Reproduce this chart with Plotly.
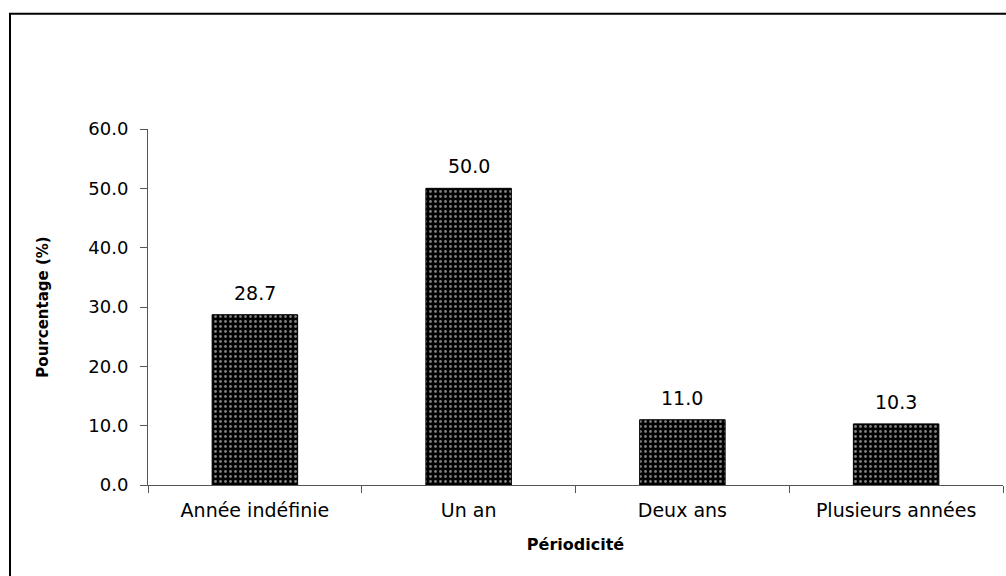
import plotly.graph_objects as go

categories = ["Année indéfinie", "Un an", "Deux ans", "Plusieurs années"]
values = [28.7, 50.0, 11.0, 10.3]
y_ticks = [0, 10, 20, 30, 40, 50, 60]
y_tick_labels = ["0.0", "10.0", "20.0", "30.0", "40.0", "50.0", "60.0"]

FONT = "DejaVu Sans, Arial, sans-serif"

fig = go.Figure(go.Bar(
    x=categories, y=values,
    width=0.4,
    marker=dict(
        color="black",
        line=dict(color="black", width=1),
        pattern=dict(shape=".", bgcolor="black", fgcolor="white", size=5, solidity=0.25, fillmode="overlay"),
    ),
    hoverinfo="x+y",
))

# value labels above bars
for c, v in zip(categories, values):
    fig.add_annotation(
        x=c, y=v, text=f"{v:.1f}", showarrow=False,
        yanchor="bottom", yshift=9,
        font=dict(family=FONT, size=19, color="black"),
    )

L, R, T, B = 148, 1003, 128.5, 485
W, H = 1006, 576
fig.update_layout(
    width=W, height=H,
    margin=dict(l=L, r=W - R, t=T, b=H - B, pad=0),
    paper_bgcolor="white", plot_bgcolor="white",
    showlegend=False,
    font=dict(family=FONT, color="black"),
    xaxis=dict(
        showline=True, linecolor="#555555", linewidth=1,
        ticks="outside", ticklen=7, tickcolor="#555555",
        tickson="boundaries",
        ticklabelstandoff=8,
        tickfont=dict(family=FONT, size=19, color="black"),
        title=dict(text="<b>Périodicité</b>", font=dict(family=FONT, size=16, color="black"), standoff=19),
        showgrid=False,
    ),
    yaxis=dict(
        range=[0, 60],
        tickvals=y_ticks, ticktext=y_tick_labels,
        showline=True, linecolor="#555555", linewidth=1,
        ticks="outside", ticklen=7, tickcolor="#555555",
        ticklabelstandoff=8,
        tickfont=dict(family=FONT, size=18, color="black"),
        title=dict(text="<b>Pourcentage (%)</b>", font=dict(family=FONT, size=15, color="black"), standoff=36),
        showgrid=False, zeroline=False,
    ),
)

# outer chart border: only the left and top edges fall inside the frame
fig.add_shape(
    type="line", xref="paper", yref="paper",
    x0=(10 - L) / (R - L), x1=(10 - L) / (R - L),
    y0=(B - 600) / (B - T), y1=(B - 13) / (B - T),
    line=dict(color="black", width=2), layer="below",
)
fig.add_shape(
    type="line", xref="paper", yref="paper",
    x0=(9 - L) / (R - L), x1=(1040 - L) / (R - L),
    y0=(B - 13) / (B - T), y1=(B - 13) / (B - T),
    line=dict(color="black", width=2), layer="below",
)

fig.write_html(
    "out.html",
    config={"displayModeBar": False},
    post_script="document.body.style.margin='0';document.body.style.overflow='hidden';",
)
